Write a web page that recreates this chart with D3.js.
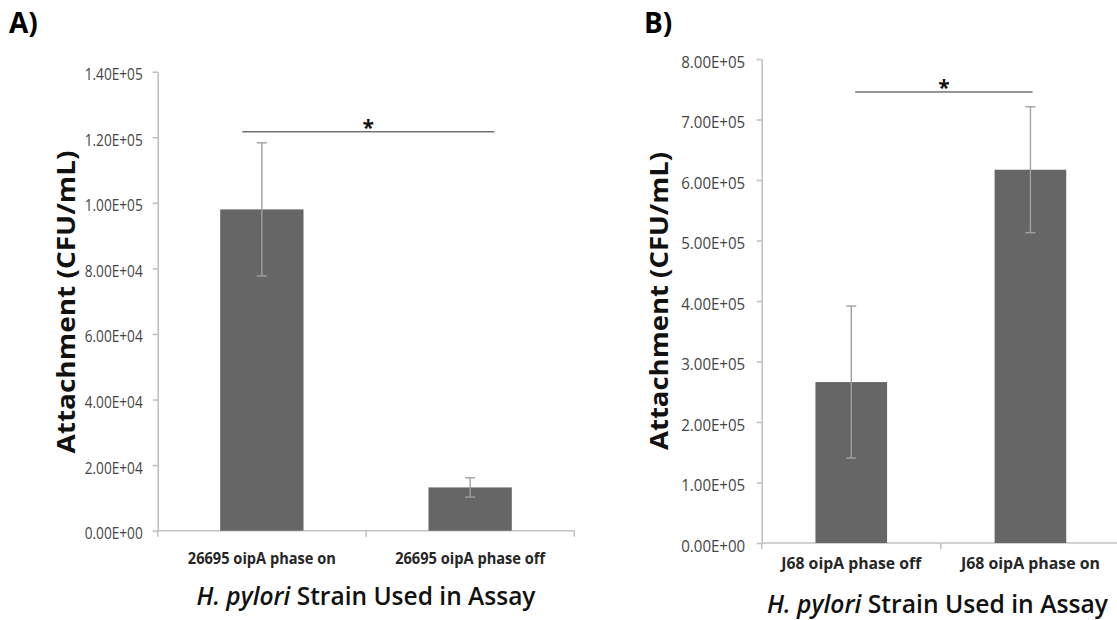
<!DOCTYPE html>
<html>
<head>
<meta charset="utf-8">
<script src="https://cdn.jsdelivr.net/npm/d3@7"></script>
<style>
  body { margin: 0; background: #fff; overflow: hidden; }
  svg { display: block; }
</style>
</head>
<body>
<div id="chart"></div>
<script>
'use strict';

// data
var categoriesA = ['26695 oipA phase on', '26695 oipA phase off'];
var meansA = [98000, 13200];
var errorsA = [20300, 2950];
var ticksA = [0, 20000, 40000, 60000, 80000, 100000, 120000, 140000];
var sigLevelA = 121700;

var categoriesB = ['J68 oipA phase off', 'J68 oipA phase on'];
var meansB = [266000, 617000];
var errorsB = [125600, 104000];
var ticksB = [0, 100000, 200000, 300000, 400000, 500000, 600000, 700000, 800000];
var sigLevelB = 745500;

var yTitle = 'Attachment (CFU/mL)';

var chart = {};
chart.width = 1117;
chart.height = 620;
chart.barColor = '#666666';
chart.axisColor = '#c2c2c2';
chart.errColor = '#a0a0a0';

chart.panels = [
    {label: 'A)', labelX: 9, labelY: 33,
     categories: categoriesA, means: meansA, errors: errorsA, ticks: ticksA, sig: sigLevelA,
     left: 157.7, right: 574.3, bottom: 530.7, top: 71.7, max: 140000,
     tickFont: 16.5, tickW: 58, tickPad: 10, catOffset: 33.6, catW: [148, 150],
     sigFrom: -0.094, sigTo: 0.116,
     yTitleX: 65, yTitleY: 302, yTitleW: 303,
     xTitleX: 366, xTitleY: 605, xTitleW: 339},
    {label: 'B)', labelX: 644, labelY: 33,
     categories: categoriesB, means: meansB, errors: errorsB, ticks: ticksB, sig: sigLevelB,
     left: 761.7, right: 1120, bottom: 543, top: 59, max: 800000,
     tickFont: 17, tickW: 64, tickPad: 11.5, catOffset: 26, catW: [140, 139],
     sigFrom: 0.022, sigTo: 0.012,
     yTitleX: 658, yTitleY: 301, yTitleW: 298,
     xTitleX: 937.5, xTitleY: 613, xTitleW: 341}
];

chart.fmt = function (v)
{
    if (v === 0) return '0.00E+00';
    var e = Math.floor(Math.log10(v));
    var m = v / Math.pow(10, e);
    return m.toFixed(2) + 'E+' + (e < 10 ? '0' + e : e);
}

// squeeze a text to the measured width (the figure is a bit condensed)
chart.squeeze = function (sel, w)
{
    sel.attr('textLength', w).attr('lengthAdjust', 'spacingAndGlyphs');
    return sel;
}

chart.drawPanel = function (svg, p)
{
    var g = svg.append('g');
    var y = d3.scaleLinear().domain([0, p.max]).range([p.bottom, p.top]);
    var x = d3.scaleBand().domain(p.categories).range([p.left, p.right]);
    var bw = x.bandwidth() * 0.4;
    var rows = p.categories.map(function (c, i) { return {cat: c, mean: p.means[i], err: p.errors[i]}; });
    var mid = function (c) { return x(c) + x.bandwidth() / 2; };

    // y axis
    var yAxis = d3.axisLeft(y).tickValues(p.ticks).tickFormat(chart.fmt)
        .tickSize(5).tickSizeOuter(0).tickPadding(p.tickPad);
    var ya = g.append('g').attr('transform', 'translate(' + p.left + ',0)').call(yAxis);
    ya.select('.domain').attr('stroke', chart.axisColor).attr('stroke-width', 1.6);
    ya.selectAll('.tick line').attr('stroke', chart.axisColor).attr('stroke-width', 1.6);
    ya.selectAll('.tick text')
        .attr('fill', '#454545')
        .attr('dy', '0.48em')
        .attr('font-family', '"Open Sans", sans-serif')
        .attr('font-size', p.tickFont)
        .each(function () { chart.squeeze(d3.select(this), p.tickW); });

    // x axis line and boundary ticks
    g.append('line')
        .attr('x1', p.left).attr('x2', p.right)
        .attr('y1', p.bottom).attr('y2', p.bottom)
        .attr('stroke', chart.axisColor).attr('stroke-width', 1.6);
    var bounds = p.categories.map(function (c) { return x(c); }).concat([p.right]);
    g.selectAll('.xtick').data(bounds).enter().append('line')
        .attr('x1', function (d) { return d; }).attr('x2', function (d) { return d; })
        .attr('y1', p.bottom).attr('y2', p.bottom + 6)
        .attr('stroke', chart.axisColor).attr('stroke-width', 1.6);

    // bars
    g.selectAll('.bar').data(rows).enter().append('rect')
        .attr('x', function (d) { return mid(d.cat) - bw / 2; })
        .attr('y', function (d) { return y(d.mean); })
        .attr('width', bw)
        .attr('height', function (d) { return p.bottom - y(d.mean); })
        .attr('fill', chart.barColor);

    // error bars
    var eb = g.selectAll('.err').data(rows).enter().append('g')
        .attr('transform', function (d) { return 'translate(' + mid(d.cat) + ',0)'; });
    eb.append('line')
        .attr('y1', function (d) { return y(d.mean + d.err); })
        .attr('y2', function (d) { return y(d.mean - d.err); })
        .attr('stroke', chart.errColor).attr('stroke-width', 1.4);
    eb.selectAll('.cap').data(function (d) { return [d.mean + d.err, d.mean - d.err]; }).enter().append('line')
        .attr('x1', -5).attr('x2', 5)
        .attr('y1', function (v) { return y(v); }).attr('y2', function (v) { return y(v); })
        .attr('stroke', chart.errColor).attr('stroke-width', 1.4);

    // category labels
    g.selectAll('.cat').data(rows).enter().append('text')
        .attr('x', function (d) { return mid(d.cat); })
        .attr('y', p.bottom + p.catOffset)
        .attr('text-anchor', 'middle')
        .attr('font-family', '"Open Sans", sans-serif')
        .attr('font-weight', 'bold')
        .attr('font-size', 16.5)
        .attr('fill', '#262626')
        .text(function (d) { return d.cat; })
        .each(function (d, i) { chart.squeeze(d3.select(this), p.catW[i]); });

    // significance line and star
    var c0 = mid(p.categories[0]) + p.sigFrom * x.step();
    var c1 = mid(p.categories[1]) + p.sigTo * x.step();
    g.append('line')
        .attr('x1', c0).attr('x2', c1)
        .attr('y1', y(p.sig)).attr('y2', y(p.sig))
        .attr('stroke', '#707070').attr('stroke-width', 1.4);
    g.append('text')
        .attr('x', (c0 + c1) / 2)
        .attr('y', y(p.sig) + 3)
        .attr('text-anchor', 'middle')
        .attr('font-family', '"Open Sans", sans-serif')
        .attr('font-weight', 'bold')
        .attr('font-size', 21)
        .attr('fill', '#111')
        .text('*');

    // titles
    var yt = g.append('text')
        .attr('transform', 'translate(' + p.yTitleX + ',' + p.yTitleY + ') rotate(-90)')
        .attr('text-anchor', 'middle')
        .attr('dominant-baseline', 'central')
        .attr('font-family', '"Open Sans", sans-serif')
        .attr('font-weight', 'bold')
        .attr('font-size', 25)
        .attr('fill', '#111')
        .text(yTitle);
    chart.squeeze(yt, p.yTitleW);

    var xt = g.append('text')
        .attr('x', p.xTitleX).attr('y', p.xTitleY)
        .attr('text-anchor', 'middle')
        .attr('font-family', '"Open Sans", sans-serif')
        .attr('font-size', 25)
        .attr('fill', '#111');
    xt.append('tspan').attr('font-style', 'italic').attr('font-weight', 600).text('H. pylori');
    xt.append('tspan').attr('font-weight', 600).text(' Strain Used in Assay');
    chart.squeeze(xt, p.xTitleW);

    // panel letter
    g.append('text')
        .attr('x', p.labelX).attr('y', p.labelY)
        .attr('font-family', '"Open Sans", sans-serif')
        .attr('font-weight', 'bold')
        .attr('font-size', 28)
        .attr('fill', '#000')
        .text(p.label);
}

var svg = d3.select('#chart').append('svg')
    .attr('width', chart.width)
    .attr('height', chart.height);

chart.panels.forEach(function (p) { chart.drawPanel(svg, p); });
</script>
</body>
</html>
